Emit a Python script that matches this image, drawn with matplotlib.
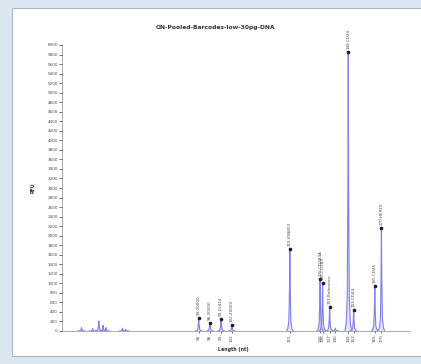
import matplotlib
matplotlib.use("Agg")
import matplotlib.pyplot as plt
from matplotlib.patches import Rectangle

# Picos marcados (posição no eixo, altura em RFU, rótulo do pico, rótulo do eixo)
peak_pos = [93.0, 95.7, 98.4, 101.0, 115.0, 122.3, 122.9, 124.6, 126.0, 129.1, 130.4, 135.5, 137.1]
peak_rfu = [270, 170, 250, 130, 1720, 1100, 1000, 500, 60, 5860, 450, 940, 2160]
peak_names = ["93.20000", "96.20000", "99.22414", "102.20000", "115.ION803",
              "135.CD2A4A", "136.CD3B5", "137.Reference", "", "149.CD24",
              "153.CD44", "165.CD45", "170.HER16"]
tick_names = ["93", "96", "99", "102", "115", "135", "136", "137", "140",
              "149", "153", "165", "170"]

# Ruído no início do traço (sem rótulo)
noise_pos = [64.7, 67.4, 68.9, 69.9, 70.6, 74.6, 75.4]
noise_rfu = [70, 50, 210, 120, 70, 60, 30]

# Forma relativa de um pico
shape_dx = [-0.8, -0.5, -0.25, -0.09, 0.0, 0.09, 0.25, 0.5, 0.8]
shape_h = [0.0, 0.03, 0.12, 0.5, 1.0, 0.5, 0.12, 0.03, 0.0]

x_min, x_max = 60.0, 144.0

fig = plt.figure(figsize=(4.21, 3.64), dpi=100)
fig.patch.set_facecolor("#dce6f1")
panel = Rectangle((12 / 421, 1 - 356 / 364), 1, (356 - 8) / 364,
                  transform=fig.transFigure, facecolor="white",
                  edgecolor="#9aa6b4", linewidth=0.6, zorder=-5)
fig.add_artist(panel)

ax = fig.add_axes([62 / 421, 1 - 331 / 364, 348 / 421, (331 - 45) / 364])
ax.set_zorder(2)
ax.set_facecolor("white")

line_c = "#7f7fec"
all_pos = noise_pos + peak_pos
all_rfu = noise_rfu + peak_rfu
ax.plot([x_min, x_max], [0, 0], color="#9a9ad8", lw=0.6)
for p, h in zip(all_pos, all_rfu):
    xs = [p + d for d in shape_dx]
    ys = [h * s for s in shape_h]
    ax.fill(xs, ys, color=line_c, alpha=0.22, lw=0)
    ax.plot(xs, ys, color=line_c, lw=0.8)

# marcadores e rótulos
for p, h, name in zip(peak_pos, peak_rfu, peak_names):
    if not name:
        continue
    ax.plot(p, h, "o", color="#1a1a40", ms=1.6)
    ax.text(p, h + 60, name, rotation=90, ha="center", va="bottom",
            fontsize=3, color="#4a4a4a", clip_on=False)

ax.set_xlim(x_min, x_max)
ax.set_ylim(0, 6000)
ax.set_yticks(range(0, 6001, 200))
ax.set_xticks(peak_pos)
ax.set_xticklabels(tick_names, rotation=90, fontsize=3, color="#4a4a4a")
ax.tick_params(axis="y", labelsize=3, labelcolor="#4a4a4a", length=2, width=0.4, pad=1)
ax.tick_params(axis="x", length=1.5, width=0.4, pad=1)
for s in ["top", "right"]:
    ax.spines[s].set_visible(False)
for s in ["left", "bottom"]:
    ax.spines[s].set_color("#888888")
    ax.spines[s].set_linewidth(0.5)

fig.text(215 / 421, 1 - 28 / 364, "ON-Pooled-Barcodes-low-30pg-DNA",
         ha="center", va="center", fontsize=4.3, fontweight="bold", color="#333333")
fig.text(33 / 421, 1 - 188 / 364, "RFU", rotation=90, ha="center", va="center",
         fontsize=3.4, fontweight="bold", color="#333333")
fig.text(233 / 421, 1 - 350 / 364, "Length (nt)", ha="center", va="center",
         fontsize=3.4, fontweight="bold", color="#333333")

fig.savefig("out.png", dpi=100)
